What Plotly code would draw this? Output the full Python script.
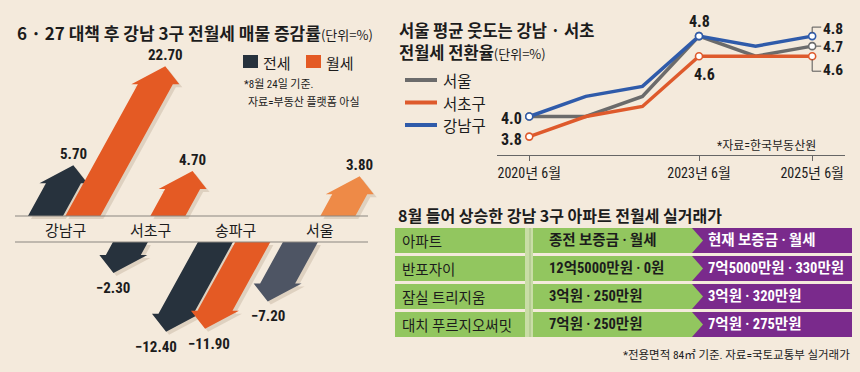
import plotly.graph_objects as go

# ---------------- data ----------------
# panel 1: listing change after 6.27 measures (%)
districts = ["강남구", "서초구", "송파구", "서울"]
jeonse_change = [5.70, -2.30, -12.40, -7.20]
wolse_change = [22.70, 4.70, -11.90, 3.80]

# panel 2: jeonse-to-wolse conversion rate (%)
years = [2020, 2021, 2022, 2023, 2024, 2025]
seoul_rate = [4.0, 4.0, 4.2, 4.8, 4.6, 4.7]
seocho_rate = [3.8, 4.0, 4.1, 4.6, 4.6, 4.6]
gangnam_rate = [4.0, 4.2, 4.3, 4.8, 4.7, 4.8]
tick_years = [2020, 2023, 2025]
tick_labels = ["2020년 6월", "2023년 6월", "2025년 6월"]

# panel 3: table
table_header = ["아파트", "종전 보증금 · 월세", "현재 보증금 · 월세"]
apartments = ["반포자이", "잠실 트리지움", "대치 푸르지오써밋"]
prev_terms = ["12억5000만원 · 0원", "3억원 · 250만원", "7억원 · 250만원"]
curr_terms = ["7억5000만원 · 330만원", "3억원 · 320만원", "7억원 · 275만원"]

# ---------------- style ----------------
W, H = 860, 372
BG = "#F4EADC"
INK = "#1C1C1C"
KR = "Noto Sans CJK KR, sans-serif"
NUM = "Liberation Sans Narrow, Roboto Condensed, DejaVu Sans Condensed, Noto Sans CJK KR, sans-serif"
NAVY = "#27323D"
ORANGE = "#E45A24"
jeonse_colors = [NAVY, NAVY, NAVY, "#4E5564"]
wolse_colors = [ORANGE, ORANGE, ORANGE, "#EE8A47"]
GREEN = "#92C65F"
PURPLE = "#7A2A8C"

fig = go.Figure()

# ---------------- panel 1: arrows ----------------
CAT_PX = 85.0          # pixels per category unit
VAL_PX = 5.83          # pixels per % unit
band = 13 / VAL_PX     # half height of label band (value units)
lead = 3.0             # stem before value length starts
slant = 0.55 * VAL_PX / CAT_PX
half_w = 17.5 / CAT_PX
wing = 24.0 / CAT_PX
head_h = 18 / VAL_PX
offsets = {"jeonse": -0.23, "wolse": 0.21}


def arrow(bx, v):
    s = 1 if v >= 0 else -1
    y0 = s * band
    yt = s * (band + lead + abs(v))
    yh = yt - s * head_h

    def cx(y):
        return bx + slant * (y - y0)

    xs = [bx - half_w, bx + half_w, cx(yh) + half_w, cx(yh) + wing, cx(yt),
          cx(yh) - wing, cx(yh) - half_w, bx - half_w]
    ys = [y0, y0, yh, yh, yt, yh, yh, y0]
    return xs, ys, cx(yt), yt


labels_p1 = []
for series, vals, other, cols in (("jeonse", jeonse_change, wolse_change, jeonse_colors),
                                  ("wolse", wolse_change, jeonse_change, wolse_colors)):
    for i, v in enumerate(vals):
        xs, ys, tx, ty = arrow(i + offsets[series], v)
        # soft shadow
        fig.add_trace(go.Scatter(
            x=[x + 3 / CAT_PX for x in xs], y=[y - 3 / VAL_PX for y in ys],
            fill="toself", mode="lines", line=dict(width=0),
            fillcolor="rgba(110,80,50,0.16)", hoverinfo="skip", showlegend=False,
            xaxis="x", yaxis="y"))
        fig.add_trace(go.Scatter(
            x=xs, y=ys, fill="toself", mode="lines", line=dict(width=0),
            fillcolor=cols[i], hoverinfo="skip", showlegend=False,
            xaxis="x", yaxis="y"))
        txt = f"{v:.2f}" if v >= 0 else "−" + f"{abs(v):.2f}"
        # pull apart labels when both arrows of a district point the same way
        same_dir = (v >= 0) == (other[i] >= 0)
        shift = 0
        if same_dir and v < 0:
            shift = -10 if series == "jeonse" else 4
        labels_p1.append(dict(
            x=tx, y=ty, xref="x", yref="y", text=f"<b>{txt}</b>",
            showarrow=False, font=dict(family=NUM, size=15, color=INK),
            xanchor="center", yanchor="bottom" if v >= 0 else "top",
            xshift=shift, yshift=0 if v >= 0 else -4))

# ---------------- panel 2: lines ----------------
line_series = [("서울", seoul_rate, "#6B6B6B"),
               ("서초구", seocho_rate, "#DE5A2C"),
               ("강남구", gangnam_rate, "#2F5BAA")]
marked = [0, 3, 5]
for name, vals, col in line_series:
    fig.add_trace(go.Scatter(
        x=years, y=vals, mode="lines", line=dict(color=col, width=3.5),
        name=name, showlegend=False, hoverinfo="skip", xaxis="x2", yaxis="y2"))
for name, vals, col in line_series:
    fig.add_trace(go.Scatter(
        x=[years[k] for k in marked], y=[vals[k] for k in marked], mode="markers",
        marker=dict(size=7, color="white", line=dict(color=col, width=1.6)),
        showlegend=False, hoverinfo="skip", xaxis="x2", yaxis="y2"))

# ---------------- layout axes ----------------
def px(x):
    return x / W


def py(y):
    return 1 - y / H


fig.update_layout(
    width=W, height=H, margin=dict(l=0, r=0, t=0, b=0),
    paper_bgcolor=BG, plot_bgcolor="rgba(0,0,0,0)",
    xaxis=dict(domain=[0, px(385)], range=[-65 / CAT_PX, (385 - 65) / CAT_PX],
               visible=False, fixedrange=True),
    yaxis=dict(domain=[0, 1], range=[-(H - 229) / VAL_PX, 229 / VAL_PX],
               visible=False, fixedrange=True),
    xaxis2=dict(domain=[px(497), px(845)], range=[2019.43, 2025.58], anchor="y2",
                showline=True, linecolor="#666", linewidth=1, ticks="outside",
                ticklen=5, tickcolor="#666", tickvals=tick_years, ticktext=tick_labels,
                tickfont=dict(family=NUM, size=14, color=INK), showgrid=False,
                zeroline=False, fixedrange=True),
    yaxis2=dict(domain=[py(155), 1], range=[4.0 - (155 - 116.5) / 100.5, 4.0 + 116.5 / 100.5],
                anchor="x2", visible=False, fixedrange=True),
    xaxis3=dict(domain=[0, 1], range=[0, W], anchor="y3", visible=False, fixedrange=True),
    yaxis3=dict(domain=[0, 1], range=[H, 0], anchor="x3", visible=False, fixedrange=True),
)

shapes = []
ann = list(labels_p1)


def text(x, y, s, size=15, family=KR, color=INK, xanchor="left", bold=False):
    ann.append(dict(x=x, y=y, xref="x3", yref="y3", text=f"<b>{s}</b>" if bold else s,
                    showarrow=False, xanchor=xanchor, yanchor="middle",
                    font=dict(family=family, size=size, color=color)))


# panel 1 decorations
text(15, 32, "<b>6 · 27 대책 후 강남 3구 전월세 매물 증감률</b>"
     "<span style='font-size:13px'>(단위=%)</span>", size=17)
shapes.append(dict(type="rect", xref="x3", yref="y3", x0=243, x1=258, y0=55, y1=68,
                   fillcolor=NAVY, line=dict(width=0)))
shapes.append(dict(type="rect", xref="x3", yref="y3", x0=306, x1=321, y0=55, y1=68,
                   fillcolor=ORANGE, line=dict(width=0)))
text(261, 62, "전세", size=15)
text(324, 62, "월세", size=15)
text(242, 84, "*8월 24일 기준.", size=11, family=NUM)
text(246, 102, "자료=부동산 플랫폼 아실", size=11, family=NUM)
for yy in (216, 242):
    shapes.append(dict(type="line", xref="x3", yref="y3", x0=15, x1=368, y0=yy, y1=yy,
                       line=dict(color="#8A8580", width=1.2)))
for i, d in enumerate(districts):
    ann.append(dict(x=i, y=0, xref="x", yref="y", text=d, showarrow=False,
                    xanchor="center", yanchor="middle",
                    font=dict(family=KR, size=15, color=INK)))

# panel 2 decorations
text(397, 30, "서울 평균 웃도는 강남 · 서초", size=16.5, bold=True)
text(397, 52, "<b>전월세 전환율</b><span style='font-size:13px'>(단위=%)</span>", size=16.5)
for k, (name, vals, col) in enumerate(line_series):
    yy = 80 + k * 22.5
    shapes.append(dict(type="line", xref="x3", yref="y3", x0=405, x1=437, y0=yy, y1=yy,
                       line=dict(color=col, width=4)))
    text(441, yy, name, size=15.5)
text(818, 146, "*자료=한국부동산원", size=12, family=NUM, xanchor="right")


def vlabel(x, y, s, xanchor="center", yanchor="middle", xshift=0, yshift=0, size=16):
    ann.append(dict(x=x, y=y, xref="x2", yref="y2", text=f"<b>{s}</b>", showarrow=False,
                    xanchor=xanchor, yanchor=yanchor, xshift=xshift, yshift=yshift,
                    font=dict(family=NUM, size=size, color=INK)))


vlabel(2020, gangnam_rate[0], f"{gangnam_rate[0]:.1f}", xanchor="right", xshift=-5, yshift=-2)
vlabel(2020, seocho_rate[0], f"{seocho_rate[0]:.1f}", xanchor="right", xshift=-5, yshift=-3)
vlabel(2023, gangnam_rate[3], f"{gangnam_rate[3]:.1f}", yanchor="bottom", yshift=3)
vlabel(2023, seocho_rate[3], f"{seocho_rate[3]:.1f}", xshift=5, yshift=-18)
vlabel(2025, gangnam_rate[5], f"{gangnam_rate[5]:.1f}", xanchor="left", xshift=9, yshift=7, size=15.5)
vlabel(2025, seoul_rate[5], f"{seoul_rate[5]:.1f}", xanchor="left", xshift=9, yshift=-1, size=15.5)
vlabel(2025, seocho_rate[5], f"{seocho_rate[5]:.1f}", xanchor="left", xshift=9, yshift=-14, size=15.5)
yr_px = 56.6
rt_px = 100.5
bl = dict(color="#555", width=1)
shapes += [
    dict(type="line", xref="x2", yref="y2", x0=2025, x1=2025,
         y0=gangnam_rate[5] + 3 / rt_px, y1=gangnam_rate[5] + 9 / rt_px, line=bl),
    dict(type="line", xref="x2", yref="y2", x0=2025, x1=2025 + 9 / yr_px,
         y0=gangnam_rate[5] + 9 / rt_px, y1=gangnam_rate[5] + 9 / rt_px, line=bl),
    dict(type="line", xref="x2", yref="y2", x0=2025 + 4 / yr_px, x1=2025 + 9 / yr_px,
         y0=seoul_rate[5], y1=seoul_rate[5], line=bl),
    dict(type="line", xref="x2", yref="y2", x0=2025, x1=2025,
         y0=seocho_rate[5] - 3 / rt_px, y1=seocho_rate[5] - 15 / rt_px, line=bl),
    dict(type="line", xref="x2", yref="y2", x0=2025, x1=2025 + 9 / yr_px,
         y0=seocho_rate[5] - 15 / rt_px, y1=seocho_rate[5] - 15 / rt_px, line=bl),
]

# panel 3: table
text(396, 215, "8월 들어 상승한 강남 3구 아파트 전월세 실거래가", size=16, bold=True)
rows = [table_header] + [[a, p, c] for a, p, c in zip(apartments, prev_terms, curr_terms)]
top, rh, pitch = 228, 25, 28
shapes.append(dict(type="rect", xref="x3", yref="y3", x0=525, x1=533, y0=top,
                   y1=top + pitch * (len(rows) - 1) + rh, fillcolor="#C9DDA6",
                   line=dict(width=0)))
shapes.append(dict(type="line", xref="x3", yref="y3", x0=530, x1=530, y0=top,
                   y1=top + pitch * (len(rows) - 1) + rh, line=dict(color="#A4BE83", width=1)))
for r, row in enumerate(rows):
    y0 = top + r * pitch
    y1 = y0 + rh
    ym = (y0 + y1) / 2
    shapes.append(dict(type="rect", xref="x3", yref="y3", x0=395, x1=525, y0=y0, y1=y1,
                       fillcolor=GREEN, line=dict(width=0)))
    shapes.append(dict(type="rect", xref="x3", yref="y3", x0=692, x1=852, y0=y0, y1=y1,
                       fillcolor=PURPLE, line=dict(width=0)))
    shapes.append(dict(type="path", xref="x3", yref="y3",
                       path=f"M533,{y0} L692,{y0} L703,{ym} L692,{y1} L533,{y1} Z",
                       fillcolor=GREEN, line=dict(width=0)))
    text(400, ym, row[0], size=14.5)
    text(547, ym, row[1], size=14.5, family=NUM, bold=True)
    text(706, ym, row[2], size=14.5, family=NUM, bold=True, color="white")
text(852, 355, "*전용면적 84㎡ 기준. 자료=국토교통부 실거래가", size=11.5, family=NUM,
     xanchor="right")

fig.update_layout(shapes=shapes, annotations=ann)
fig.write_html("out.html", config={"displayModeBar": False, "staticPlot": True},
               post_script="document.body.style.margin='0';document.body.style.overflow='hidden';")
